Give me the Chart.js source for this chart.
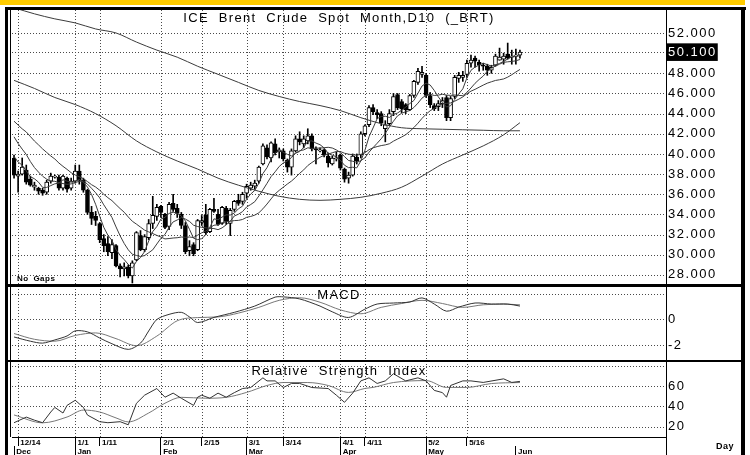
<!DOCTYPE html>
<html>
<head>
<meta charset="utf-8">
<script src="https://cdn.jsdelivr.net/npm/chart.js@4.4.1/dist/chart.umd.min.js"></script>
<style>
html, body { margin: 0; padding: 0; background: #fff; }
canvas { display: block; }
</style>
</head>
<body>
<canvas id="c" width="750" height="455"></canvas>
<script>
// daily bars, Dec 11 2015 .. Jun 2 2016 (index = trading day)
var opens = [39.6,37.8,38.0,38.4,37.5,36.7,36.6,36.4,36.2,37.3,37.7,37.7,36.6,37.6,36.6,37.3,38.3,37.4,36.4,34.2,33.8,33.1,31.6,31.1,30.2,30.9,28.9,28.6,28.8,27.9,29.5,31.9,30.5,31.7,33.1,33.8,34.8,34.0,32.8,35.1,34.6,34.0,32.9,30.4,31.0,30.5,33.2,33.9,32.3,34.5,34.0,33.1,34.6,33.1,34.5,35.4,35.3,36.1,36.6,36.8,37.3,39.0,40.6,39.6,41.0,40.2,40.3,39.4,38.7,40.3,41.5,41.0,41.3,41.8,40.5,40.3,40.4,39.8,39.0,39.5,39.9,38.5,37.6,37.9,39.7,39.9,42.0,42.9,44.6,44.1,44.0,42.5,43.0,44.2,45.9,45.2,44.9,44.4,45.8,47.1,47.9,47.8,45.8,44.8,44.7,45.0,45.6,43.6,45.7,47.5,47.6,47.9,49.0,49.5,49.1,48.8,48.7,48.3,48.8,49.3,49.4,49.9,49.6,49.7,49.8];
var highs = [39.9,38.3,39.6,38.9,37.8,37.2,36.7,36.6,37.4,38.1,37.9,37.9,37.9,37.7,37.6,38.9,38.9,37.6,36.5,34.8,34.3,33.2,32.0,31.8,31.5,31.0,29.1,29.2,29.0,29.4,32.3,32.4,32.0,33.5,35.8,35.0,34.9,34.1,35.2,36.0,35.0,34.2,33.2,31.4,31.2,33.5,33.9,35.0,34.6,35.6,34.5,34.8,34.8,34.6,35.4,36.0,36.2,37.0,37.2,37.4,38.8,41.0,40.9,41.2,41.5,40.6,40.5,39.5,40.5,41.8,42.2,41.8,42.5,42.0,40.7,40.6,40.5,40.1,39.8,40.2,40.0,38.6,38.2,40.0,40.0,42.2,42.9,44.8,44.9,44.4,44.2,43.3,44.4,46.0,46.0,45.4,45.0,45.9,47.3,48.5,48.7,48.0,46.1,45.0,45.3,45.6,45.8,45.7,47.8,48.1,48.2,49.3,49.8,49.7,49.3,49.0,48.9,48.8,49.9,50.5,50.0,51.0,50.3,50.4,50.3];
var lows = [37.6,36.2,37.9,37.0,36.8,36.4,36.0,35.9,36.0,37.1,37.6,36.4,36.4,36.2,36.4,37.1,37.0,36.2,34.0,33.0,32.9,31.2,30.3,29.9,29.6,28.8,27.8,27.9,27.7,27.2,29.4,30.4,30.3,31.5,32.6,33.4,33.7,32.6,32.5,34.3,33.7,32.6,30.1,29.9,29.9,30.4,32.9,32.0,32.2,34.2,32.9,33.0,33.0,31.9,34.3,34.9,35.0,35.6,36.4,36.5,37.1,38.9,39.5,39.2,39.9,39.6,39.3,38.2,37.9,40.2,40.9,40.6,41.0,40.3,39.0,40.2,39.7,38.7,38.9,39.3,38.4,37.2,37.1,37.8,39.0,39.6,41.8,42.7,43.9,43.5,42.8,41.2,42.8,43.8,44.4,44.1,44.0,44.3,45.6,46.9,47.6,45.6,44.6,44.3,44.3,44.6,43.3,43.3,45.5,47.1,47.2,47.6,48.6,48.6,48.2,48.3,47.8,48.0,48.7,49.3,48.9,49.4,48.9,48.9,49.5];
var closes = [37.9,38.0,38.7,37.2,36.9,36.9,36.3,36.1,37.2,37.8,37.8,36.6,37.8,36.5,37.3,38.3,37.4,36.4,34.2,33.6,33.4,31.5,30.9,30.3,31.0,28.9,28.6,28.8,27.9,29.2,32.2,30.5,31.8,33.1,33.9,34.7,34.2,32.7,35.0,34.5,34.1,32.9,30.3,30.8,30.1,33.4,33.4,32.2,34.5,34.3,33.0,34.7,33.3,34.4,35.3,35.1,36.0,36.8,36.9,37.1,38.7,40.8,39.7,41.1,40.1,40.4,39.5,38.7,40.3,41.5,41.2,41.5,41.8,40.5,40.4,40.4,39.9,39.1,39.6,39.6,38.6,37.5,37.9,39.8,39.3,42.0,42.8,44.6,44.2,43.9,43.1,42.9,44.0,45.7,44.6,44.5,44.4,45.8,47.2,48.2,48.1,45.8,44.9,44.5,45.0,45.3,43.6,45.5,47.6,47.8,47.8,49.0,49.3,49.2,48.8,48.7,48.3,48.6,49.7,49.6,49.7,49.5,49.7,49.8,50.1];

// moving averages
var ma5 = [39.75,39.2,38.89,38.31,37.74,37.54,37.2,36.68,36.68,36.86,37.04,37.1,37.44,37.3,37.2,37.3,37.46,37.18,36.72,35.98,35.0,33.82,32.72,31.94,31.42,30.52,29.94,29.52,29.04,28.68,29.34,29.72,30.32,31.36,32.3,32.8,33.54,33.72,34.1,34.22,34.1,33.84,33.36,32.52,31.64,31.5,31.6,31.98,32.72,33.56,33.48,33.74,33.96,33.94,34.14,34.56,34.82,35.52,36.02,36.38,37.1,38.06,38.64,39.48,40.08,40.42,40.16,39.96,39.8,40.08,40.24,40.64,41.26,41.3,41.08,40.92,40.6,40.06,39.88,39.72,39.36,38.88,38.64,38.68,38.62,39.3,40.36,41.7,42.58,43.5,43.72,43.74,43.62,43.92,44.06,44.34,44.64,45.0,45.3,46.02,46.74,47.02,46.84,46.3,45.66,45.1,44.66,44.78,45.4,45.96,46.46,47.54,48.3,48.62,48.82,49.0,48.86,48.72,48.82,48.98,49.18,49.42,49.64,49.66,49.76];
var ma10 = [41.7,41.04,40.48,39.95,39.25,38.65,38.2,37.79,37.5,37.3,37.29,37.15,37.06,36.99,37.03,37.17,37.28,37.31,37.01,36.59,36.15,35.64,34.95,34.33,33.7,32.76,31.88,31.12,30.49,30.05,29.93,29.83,29.92,30.2,30.49,31.07,31.63,32.02,32.73,33.26,33.45,33.69,33.54,33.31,32.93,32.8,32.72,32.67,32.62,32.6,32.49,32.67,32.97,33.33,33.85,34.02,34.28,34.74,34.98,35.26,35.83,36.44,37.08,37.75,38.23,38.76,39.11,39.3,39.64,40.08,40.33,40.4,40.61,40.55,40.58,40.58,40.62,40.66,40.59,40.4,40.14,39.74,39.35,39.28,39.17,39.33,39.62,40.17,40.63,41.06,41.51,42.05,42.66,43.25,43.78,44.03,44.19,44.31,44.61,45.04,45.54,45.83,45.92,45.8,45.84,45.92,45.84,45.81,45.85,45.81,45.78,46.1,46.54,47.01,47.39,47.73,48.2,48.51,48.72,48.9,49.09,49.14,49.18,49.24,49.37];
var ma20 = [43.25,42.87,42.49,42.18,41.73,41.28,40.9,40.5,40.15,39.8,39.5,39.1,38.77,38.47,38.14,37.91,37.74,37.55,37.26,36.95,36.72,36.4,36.0,35.66,35.37,34.97,34.58,34.22,33.75,33.32,33.04,32.74,32.44,32.27,32.1,31.92,31.76,31.57,31.61,31.66,31.69,31.76,31.73,31.76,31.71,31.94,32.18,32.35,32.68,32.93,32.97,33.18,33.26,33.32,33.39,33.41,33.5,33.71,33.8,33.93,34.16,34.56,35.03,35.54,36.04,36.39,36.7,37.02,37.31,37.67,38.08,38.42,38.85,39.15,39.41,39.67,39.87,39.98,40.12,40.24,40.24,40.07,39.98,39.92,39.88,39.96,40.12,40.42,40.61,40.73,40.83,40.9,41.01,41.27,41.48,41.68,41.91,42.24,42.62,43.05,43.53,43.94,44.29,44.53,44.81,44.98,45.02,45.06,45.23,45.43,45.66,45.97,46.23,46.41,46.62,46.83,47.02,47.16,47.29,47.36,47.44,47.62,47.86,48.13,48.38];
// slow averages, read every 5 bars
var slowIdx = [0,5,10,15,20,25,30,35,40,45,50,55,60,65,70,75,80,85,90,95,100,105,110,115,120,124];
var maMid = [47.3,46.5,45.6,44.9,44.0,42.8,41.3,40.2,39.3,38.5,37.6,36.9,36.3,35.8,35.5,35.4,35.5,35.7,36.1,36.7,37.8,39.0,39.9,40.8,41.9,43.1];
var maLong = [54.5,53.9,53.4,53.0,52.4,52.0,51.1,50.3,49.6,48.7,47.9,47.1,46.3,45.7,45.2,44.8,44.3,43.6,43.0,42.6,42.5,42.45,42.4,42.35,42.3,42.3];

// MACD panel
var macdIdx = [0,4,7,10,13,15,18,21,24,28,31,33,35,38,41,43,45,49,54,59,64,66,70,75,78,82,86,89,93,97,100,103,106,109,113,117,121,124];
var macdVals = [-1.37,-1.7,-1.85,-1.6,-1.29,-0.89,-0.97,-1.45,-1.9,-2.34,-1.85,-0.9,0.0,0.4,0.56,0.2,-0.24,0.16,0.56,1.05,1.75,1.77,1.61,1.05,0.6,0.16,0.81,1.21,1.29,1.37,1.69,1.21,0.65,0.97,1.29,1.21,1.21,1.05];
var signalVals = [-1.1,-1.55,-1.7,-1.25,-1.05,-1.5,-2.05,-1.3,-0.1,0.15,0.2,0.5,0.95,1.5,1.7,1.35,0.75,0.45,0.95,1.25,1.5,1.25,0.95,1.15,1.2,1.15];

// RSI panel
var rsiIdx = [0,3,5,7,9,10,12,13,15,17,18,21,23,26,28,30,32,35,37,39,41,44,45,46,48,50,52,54,56,58,61,62,64,66,68,70,73,77,79,81,83,85,87,89,91,93,96,99,101,103,105,106,107,110,112,115,120,122,124];
var rsiVals = [24,29.5,26.5,24,34.5,39,33.5,41,46,39,31.5,25,24,25,22,43,51,57.5,49,53,48,41,49,51,48,53,49,53.5,57.5,58.5,68,65,65,58.5,62.5,62.5,58.5,57.5,51,44,53,65,68,62.5,65,72,65,68,65,55.7,53.5,49,60.5,65,65,63.5,67,63.5,64.5];
var rsiAvgIdx = [0,7,13,17,21,25,28,33,37,41,47,52,57,62,66,72,77,82,86,88,93,101,106,111,117,124];
var rsiAvgVals = [31.6,23.9,29.6,36.4,34.5,28.7,24.8,33.5,43.1,48.9,48.0,48.9,53.7,60.5,63.4,63.4,60.5,53.7,57.6,58.6,63.4,65.3,58.6,58.6,62.4,63.4];

// axis labels
var priceTicks = [28,30,32,34,36,38,40,42,44,46,48,50,52];
var macdTicks = [-2,0,2];
var rsiTicks = [20,40,60,80];
var dateTickIdx = [1,15,21,36,46,57,66,80,86,101,111];
var dateTickLabels = ['12/14','1/1','1/11','2/1','2/15','3/1','3/14','4/1','4/11','5/2','5/16'];
var monthTickIdx = [0,15,36,57,80,101,123];
var monthTickLabels = ['Dec','Jan','Feb','Mar','Apr','May','Jun'];

var titleText = 'ICE Brent Crude Spot Month,D10 (_BRT)';
var lastClose = closes[closes.length - 1];

function series(idx, vals) {
  return idx.map(function (x, k) { return {x: x, y: vals[k]}; });
}
function daily(vals) {
  return vals.map(function (v, i) { return {x: i, y: v}; });
}

var FONT = 'Liberation Sans';
var GRID = '#4a4a4a';

// dotted grid drawn from the scales' own ticks
function dottedGrid(chart) {
  var c = chart.ctx, a = chart.chartArea;
  c.save();
  c.strokeStyle = GRID;
  c.lineWidth = 1;
  c.setLineDash([1, 2]);
  ['yP', 'yM', 'yR'].forEach(function (id) {
    var s = chart.scales[id];
    s.ticks.forEach(function (t) {
      var y = Math.round(s.getPixelForValue(t.value)) + 0.5;
      c.beginPath(); c.moveTo(a.left, y); c.lineTo(a.right, y); c.stroke();
    });
  });
  var sx = chart.scales.x;
  sx.ticks.forEach(function (t) {
    var x = Math.round(sx.getPixelForValue(t.value)) + 0.5;
    c.beginPath(); c.moveTo(x, a.top); c.lineTo(x, a.bottom); c.stroke();
  });
  c.restore();
}

var decor = {
  id: 'decor',
  beforeLayout: function (chart) { chart.ctx.letterSpacing = '1.5px'; },
  beforeDraw: function (chart) {
    var c = chart.ctx;
    c.save();
    c.fillStyle = '#fff';
    c.fillRect(0, 0, chart.width, chart.height);
    c.fillStyle = '#ffcc00';
    c.fillRect(0, 0, 745, 5);
    c.restore();
    c.letterSpacing = '1.5px';
  },
  beforeDatasetsDraw: function (chart) { dottedGrid(chart); },
  afterDatasetsDraw: function (chart) { chart.ctx.letterSpacing = '0px'; },
  afterDraw: function (chart) {
    var c = chart.ctx, a = chart.chartArea, s = chart.scales;
    c.save();
    c.fillStyle = '#000';
    // outer frame
    c.fillRect(5, 7, 741, 3);
    c.fillRect(5, 7, 3, chart.height - 7);
    c.fillRect(741, 7, 4, chart.height - 7);
    c.fillRect(10, a.top, 1, a.bottom - a.top);
    // panel separators
    c.fillRect(8, s.yP.bottom - 1, 733, 3);
    c.fillRect(8, s.yM.bottom - 1, 733, 2);
    c.fillRect(a.right, a.bottom, 1, chart.height - a.bottom);
    // panel captions
    var cx = (a.left + a.right) / 2;
    c.textAlign = 'center';
    c.textBaseline = 'alphabetic';
    c.font = '13px "' + FONT + '"';
    c.letterSpacing = '1.3px';
    c.wordSpacing = '5px';
    c.fillText(titleText, cx, a.top + 12);
    c.fillText('MACD', cx, s.yM.top + 14);
    c.fillText('Relative Strength Index', cx, s.yR.top + 14);
    c.letterSpacing = '0.5px';
    c.wordSpacing = '2px';
    c.textAlign = 'left';
    c.font = 'bold 8px "' + FONT + '"';
    c.fillText('No Gaps', a.left + 5, s.yP.bottom - 4);
    c.font = 'bold 9px "' + FONT + '"';
    c.fillText('Day', 716, 449);
    c.restore();
  }
};

var lineBase = {type: 'line', pointRadius: 0, borderWidth: 1, fill: false, xAxisID: 'x'};
function line(data, axis, color, extra) {
  return Object.assign({}, lineBase, {data: data, yAxisID: axis, borderColor: color, order: 0}, extra || {});
}

function yAxis(weight, lo, hi, ticksList, fmt, extraTicks) {
  return {
    type: 'linear', position: 'right', stack: 'panels', stackWeight: weight,
    min: lo, max: hi,
    grid: {drawOnChartArea: false, drawTicks: false},
    border: {display: true, color: '#000', width: 1},
    ticks: Object.assign({
      autoSkip: false, padding: 2, color: '#000', font: {size: 13, family: FONT},
      callback: fmt
    }, extraTicks || {}),
    afterBuildTicks: function (s) { s.ticks = ticksList().map(function (v) { return {value: v}; }); },
    afterFit: function (s) { s.width = 75; }
  };
}

function xAxis(idx, labels, isMain) {
  return {
    type: 'linear', position: 'bottom', min: -0.5, max: 159.8, offset: false,
    grid: {drawOnChartArea: false, drawTicks: true, tickLength: 9, tickColor: '#000', tickWidth: 1, offset: false},
    border: {display: isMain, color: '#000', width: 1},
    ticks: {
      autoSkip: false, maxRotation: 0, minRotation: 0, align: 'start', padding: -8, z: 1,
      color: '#000', font: {size: 8, weight: 'bold', family: FONT},
      callback: function (v, k) { return ' ' + labels[k]; }
    },
    afterBuildTicks: function (s) { s.ticks = idx.map(function (v) { return {value: v}; }); },
    afterFit: function (s) { s.height = 9; }
  };
}

var chart = new Chart(document.getElementById('c'), {
  type: 'line',
  data: {
    datasets: [
      {
        type: 'bar', xAxisID: 'x', yAxisID: 'yP', order: 3,
        data: lows.map(function (l, i) { return {x: i, y: [l, highs[i]]}; }),
        backgroundColor: '#000', barThickness: 1, grouped: false
      },
      {
        type: 'bar', xAxisID: 'x', yAxisID: 'yP', order: 2,
        data: opens.map(function (o, i) { return {x: i, y: [o, closes[i]]}; }),
        backgroundColor: function (ctx) {
          var i = ctx.dataIndex;
          return closes[i] >= opens[i] ? '#fff' : '#000';
        },
        borderColor: '#000', borderWidth: 1, borderSkipped: false,
        barThickness: 4, minBarLength: 1, grouped: false
      },
      line(daily(ma5), 'yP', '#3c3c3c'),
      line(daily(ma10), 'yP', '#3c3c3c'),
      line(daily(ma20), 'yP', '#3c3c3c'),
      line(series(slowIdx, maMid), 'yP', '#3c3c3c', {cubicInterpolationMode: 'monotone'}),
      line(series(slowIdx, maLong), 'yP', '#3c3c3c', {cubicInterpolationMode: 'monotone'}),
      line(series(macdIdx, macdVals), 'yM', '#333', {tension: 0.3}),
      line(series(slowIdx, signalVals), 'yM', '#777', {cubicInterpolationMode: 'monotone'}),
      line(series(rsiIdx, rsiVals), 'yR', '#333'),
      line(series(rsiAvgIdx, rsiAvgVals), 'yR', '#777', {cubicInterpolationMode: 'monotone'})
    ]
  },
  options: {
    responsive: false,
    animation: false,
    devicePixelRatio: 1,
    events: [],
    layout: {padding: {left: 12, right: 9, top: 10, bottom: 0}},
    plugins: {legend: {display: false}, tooltip: {enabled: false}, title: {display: false}},
    scales: {
      x: xAxis(dateTickIdx, dateTickLabels, true),
      xm: xAxis(monthTickIdx, monthTickLabels, false),
      yP: yAxis(275, 27.0, 54.28,
        function () { return priceTicks.map(function (v) { return v === 50 ? lastClose : v; }); },
        function (v) { return v.toFixed(3); },
        {
          color: function (c) { return c.tick && c.tick.value === lastClose ? '#fff' : '#000'; },
          showLabelBackdrop: function (c) { return !!(c.tick && c.tick.value === lastClose); },
          backdropColor: '#000', backdropPadding: {x: 1, y: 1}
        }),
      yM: yAxis(76, -3.25, 2.7, function () { return macdTicks; },
        function (v) { return v === 2 ? '' : String(v); }),
      yR: yAxis(76, 10, 84.5, function () { return rsiTicks; },
        function (v) { return v === 80 ? '' : String(v); })
    }
  },
  plugins: [decor]
});
</script>
</body>
</html>
